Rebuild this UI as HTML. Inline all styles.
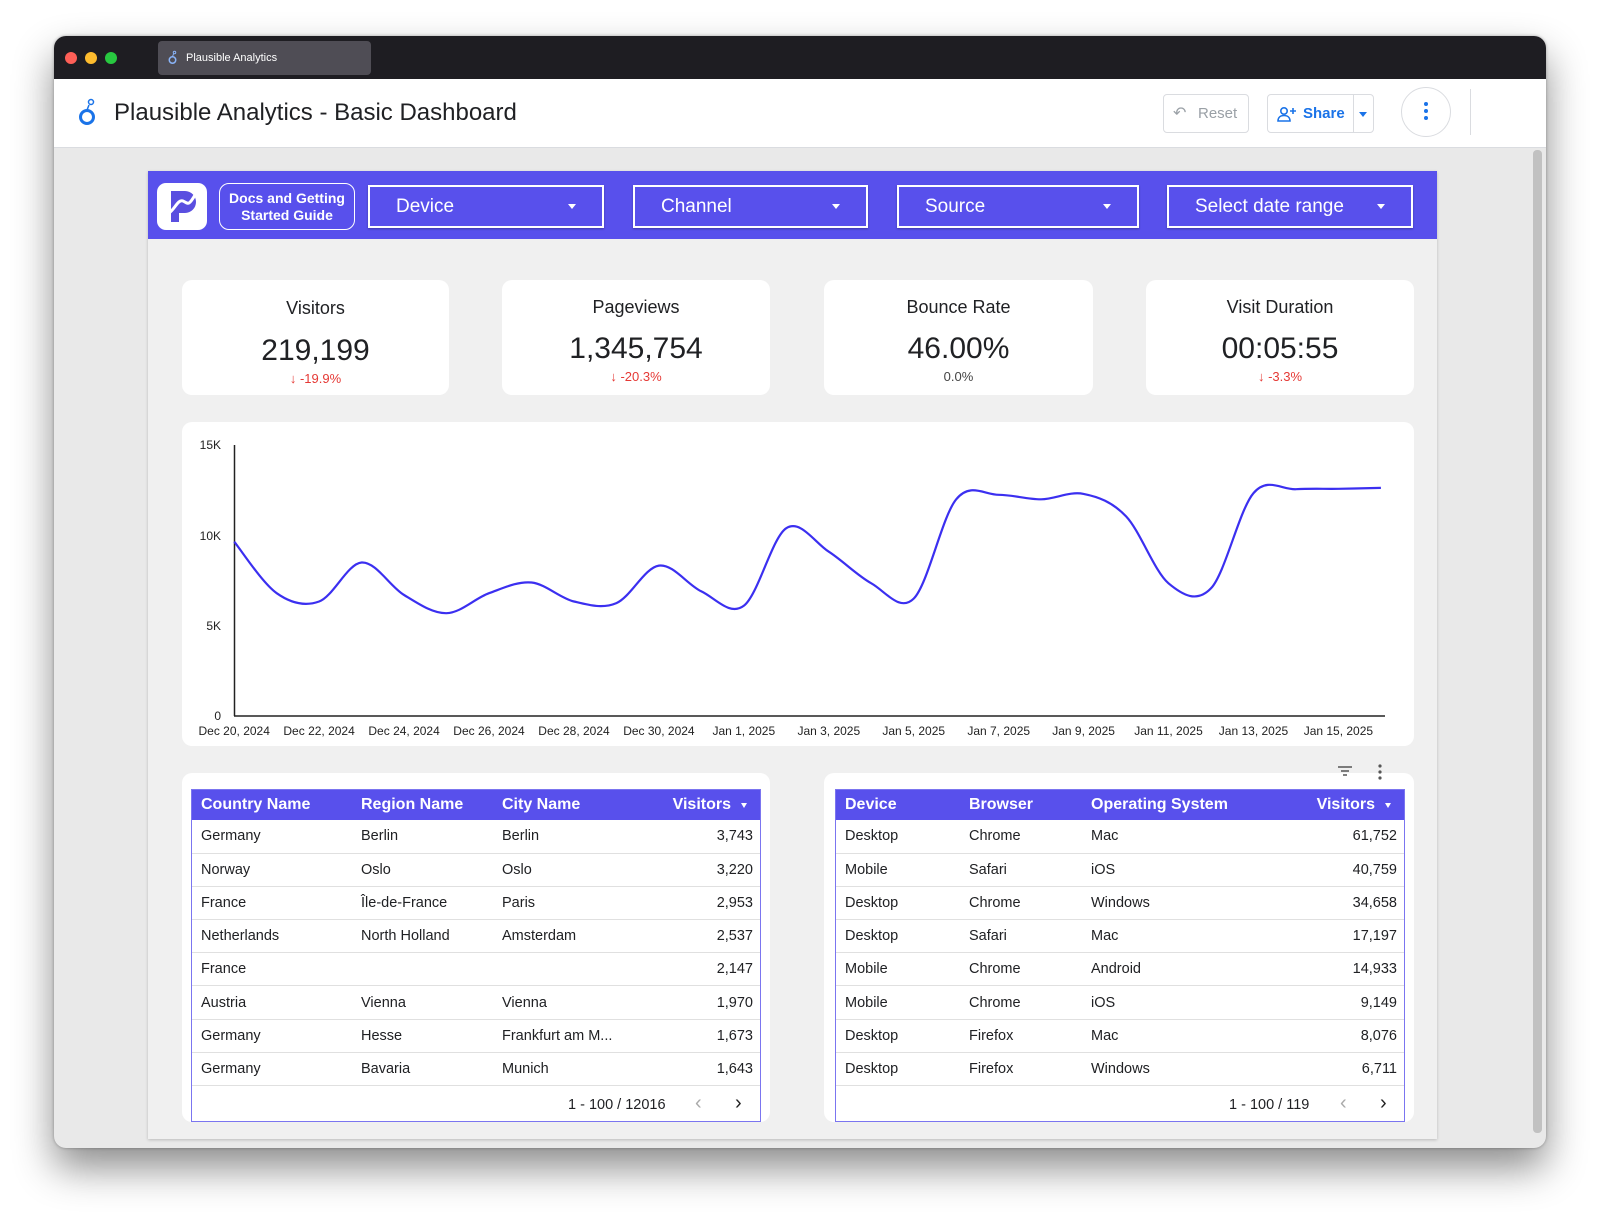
<!DOCTYPE html>
<html><head><meta charset="utf-8">
<style>
*{box-sizing:border-box;margin:0;padding:0}
body{width:1600px;height:1220px;background:#fff;font-family:"Liberation Sans",sans-serif;position:relative;overflow:hidden;color:#202124}
.abs{position:absolute}
#win{left:54px;top:36px;width:1492px;height:1112px;border-radius:12px;overflow:hidden;background:#e9e9e9;box-shadow:0 20px 40px rgba(0,0,0,.45),0 0 3px rgba(0,0,0,.3)}
#titlebar{left:0;top:0;width:1492px;height:43px;background:#1e1d22}
.dot{width:12px;height:12px;border-radius:50%;top:16px}
#tab{left:104px;top:5px;width:213px;height:34px;background:#4f4d55;border-radius:4px;color:#fff;font-size:11px;line-height:34px;padding-left:28px}
#hdr{left:0;top:43px;width:1492px;height:69px;background:#fff;border-bottom:1px solid #dadce0}
#title{left:60px;top:20px;font-size:24px;color:#202124}
.btn{border:1px solid #dadce0;border-radius:4px;background:#fff}
#panel{left:94px;top:135px;width:1289px;height:968px;background:#f0f0f0;box-shadow:0 1px 3px rgba(0,0,0,.2)}
#bar{left:0;top:0;width:1289px;height:68px;background:#5850ec}
.dd{position:absolute;top:14px;height:43px;border:2px solid #fff;box-shadow:0 1px 2px rgba(0,0,0,.3);color:#fff;font-size:19px;line-height:39px;padding-left:26px}
.dd::after{content:"";position:absolute;right:26px;top:17px;border-left:4px solid transparent;border-right:4px solid transparent;border-top:5px solid #fff}
.card{position:absolute;background:#fff;border-radius:10px}
.kt{position:absolute;left:0;width:100%;text-align:center}
table{border-collapse:collapse;width:100%;font-size:14.5px}
th{background:#5850ec;color:#fff;font-weight:bold;font-size:16px;text-align:left;height:30px;padding:0}
td{height:33.2px;border-bottom:1px solid #e0e0e0;padding:0}
.r{text-align:right}
.tb{position:absolute;border:1px solid #7b75f0;background:#fff}
</style></head><body>
<div id="win" class="abs">
 <div id="titlebar" class="abs">
  <div class="abs dot" style="left:11px;background:#fe5f57"></div>
  <div class="abs dot" style="left:31px;background:#febc2e"></div>
  <div class="abs dot" style="left:51px;background:#28c840"></div>
  <div id="tab" class="abs"><svg class="abs" style="left:10px;top:9px" width="10" height="16" viewBox="0 0 20 30"><circle cx="9" cy="19" r="6.5" fill="none" stroke="#8ab4f8" stroke-width="3"/><circle cx="13" cy="4" r="2.5" fill="none" stroke="#8ab4f8" stroke-width="2"/><line x1="11" y1="7" x2="9" y2="12" stroke="#8ab4f8" stroke-width="2"/></svg>Plausible Analytics</div>
 </div>
 <div id="hdr" class="abs">
  <svg class="abs" style="left:24px;top:19px" width="20" height="30" viewBox="0 0 20 30"><circle cx="9" cy="19" r="6.5" fill="none" stroke="#1a73e8" stroke-width="3"/><circle cx="13" cy="4" r="2.5" fill="none" stroke="#1a73e8" stroke-width="1.5"/><line x1="11" y1="7" x2="9" y2="12" stroke="#1a73e8" stroke-width="1.5"/></svg>
  <div id="title" class="abs">Plausible Analytics - Basic Dashboard</div>
  <div class="abs btn" style="left:1109px;top:15px;width:86px;height:39px;color:#9aa0a6;font-size:15px;line-height:37px;padding-left:34px">Reset<span style="position:absolute;left:9px;top:0;font-size:16px">&#x21B6;</span></div>
  <div class="abs btn" style="left:1213px;top:15px;width:107px;height:39px;color:#1a73e8;font-size:15px;font-weight:bold;line-height:37px;padding-left:35px">Share<svg style="position:absolute;left:9px;top:11px" width="20" height="16" viewBox="0 0 20 16"><circle cx="7" cy="5" r="3.2" fill="none" stroke="#1a73e8" stroke-width="1.6"/><path d="M1 15c0-4 3-5.5 6-5.5s6 1.5 6 5.5z" fill="none" stroke="#1a73e8" stroke-width="1.6"/><path d="M16 2v6M13 5h6" stroke="#1a73e8" stroke-width="1.6"/></svg><span style="position:absolute;left:85px;top:0;width:1px;height:37px;background:#dadce0"></span><span style="position:absolute;left:91px;top:17px;border-left:4px solid transparent;border-right:4px solid transparent;border-top:5px solid #1a73e8"></span></div>
  <div class="abs" style="left:1347px;top:8px;width:50px;height:50px;border:1px solid #dadce0;border-radius:50%"></div>
  <div class="abs" style="left:1370px;top:23px;width:4px;height:4px;border-radius:2px;background:#1a73e8;box-shadow:0 7px 0 #1a73e8,0 14px 0 #1a73e8"></div>
  <div class="abs" style="left:1416px;top:10px;width:1px;height:46px;background:#dadce0"></div>
 </div>
 <div class="abs" style="left:1479px;top:114px;width:9px;height:983px;background:#c1c1c1;border-radius:4px"></div>
 <div id="panel" class="abs">
  <div id="bar" class="abs">
   <div class="abs" style="left:9px;top:12px;width:50px;height:47px;background:#fff;border-radius:9px">
    <svg width="50" height="47" viewBox="0 0 50 47"><path d="M14 8h14a11 11 0 0 1 0 22h-6v9h-8z" fill="#5a4fe0"/><path d="M12 30c6-4 9-14 14-12s5 6 12-6" fill="none" stroke="#fff" stroke-width="3"/></svg>
   </div>
   <div class="abs" style="left:71px;top:12px;width:136px;height:47px;border:1.5px solid #fff;border-radius:10px;color:#fff;font-weight:bold;font-size:14px;text-align:center;line-height:17px;padding-top:6px">Docs and Getting<br>Started Guide</div>
   <div class="dd" style="left:220px;width:236px">Device</div>
   <div class="dd" style="left:485px;width:235px">Channel</div>
   <div class="dd" style="left:749px;width:242px">Source</div>
   <div class="dd" style="left:1019px;width:246px">Select date range</div>
  </div>
  <div class="card" style="left:34px;top:109px;width:267px;height:115px"><div class="kt" style="top:18px;font-size:18px">Visitors</div><div class="kt" style="top:54px;font-size:30px">219,199</div><div class="kt" style="top:91px;font-size:13px;color:#e53935">&#x2193; -19.9%</div></div>
  <div class="card" style="left:354px;top:109px;width:268px;height:115px"><div class="kt" style="top:17px;font-size:18px">Pageviews</div><div class="kt" style="top:52px;font-size:30px">1,345,754</div><div class="kt" style="top:89px;font-size:13px;color:#e53935">&#x2193; -20.3%</div></div>
  <div class="card" style="left:676px;top:109px;width:269px;height:115px"><div class="kt" style="top:17px;font-size:18px">Bounce Rate</div><div class="kt" style="top:52px;font-size:30px">46.00%</div><div class="kt" style="top:89px;font-size:13px;color:#444">0.0%</div></div>
  <div class="card" style="left:998px;top:109px;width:268px;height:115px"><div class="kt" style="top:17px;font-size:18px">Visit Duration</div><div class="kt" style="top:52px;font-size:30px">00:05:55</div><div class="kt" style="top:89px;font-size:13px;color:#e53935">&#x2193; -3.3%</div></div>
  <div class="card" style="left:34px;top:251px;width:1232px;height:324px"></div>
  <div class="card" style="left:34px;top:602px;width:588px;height:349px"></div>
  <div class="card" style="left:676px;top:602px;width:590px;height:349px"></div>
 </div>
</div>
<svg class="abs" style="left:0;top:0" width="1600" height="1220" id="ch">
 <g font-size="12" fill="#222" font-family="Liberation Sans,sans-serif">
  <text x="221" y="449" text-anchor="end">15K</text>
  <text x="221" y="540" text-anchor="end">10K</text>
  <text x="221" y="630" text-anchor="end">5K</text>
  <text x="221" y="720" text-anchor="end">0</text>
 </g>
 <line x1="234.5" y1="445" x2="234.5" y2="716" stroke="#222" stroke-width="1.5"/>
 <line x1="234" y1="716" x2="1385" y2="716" stroke="#222" stroke-width="1.5"/>
 <g id="xl" font-size="12" fill="#222" text-anchor="middle" font-family="Liberation Sans,sans-serif"></g>
 <path id="ln" fill="none" stroke="#3b2ff0" stroke-width="2.2"/>
 <g stroke="#555" stroke-width="1.5"><line x1="1338" y1="767" x2="1352" y2="767"/><line x1="1341" y1="771" x2="1349" y2="771"/><line x1="1343" y1="775" x2="1347" y2="775"/></g>
 <g fill="#555"><circle cx="1380" cy="766" r="1.6"/><circle cx="1380" cy="772" r="1.6"/><circle cx="1380" cy="778" r="1.6"/></g>
</svg>
<div class="tb" style="left:191px;top:789px;width:570px;height:333px">
 <table><tr><th style="padding-left:9px;width:169px">Country Name</th><th style="width:141px">Region Name</th><th>City Name</th><th class="r" style="padding-right:29px">Visitors <span style="position:absolute;left:549px;top:13px;border-left:3.5px solid transparent;border-right:3.5px solid transparent;border-top:5px solid #fff"></span></th></tr>
 <tr><td style="padding-left:9px">Germany</td><td>Berlin</td><td>Berlin</td><td class="r" style="padding-right:7px">3,743</td></tr>
 <tr><td style="padding-left:9px">Norway</td><td>Oslo</td><td>Oslo</td><td class="r" style="padding-right:7px">3,220</td></tr>
 <tr><td style="padding-left:9px">France</td><td>Île-de-France</td><td>Paris</td><td class="r" style="padding-right:7px">2,953</td></tr>
 <tr><td style="padding-left:9px">Netherlands</td><td>North Holland</td><td>Amsterdam</td><td class="r" style="padding-right:7px">2,537</td></tr>
 <tr><td style="padding-left:9px">France</td><td></td><td></td><td class="r" style="padding-right:7px">2,147</td></tr>
 <tr><td style="padding-left:9px">Austria</td><td>Vienna</td><td>Vienna</td><td class="r" style="padding-right:7px">1,970</td></tr>
 <tr><td style="padding-left:9px">Germany</td><td>Hesse</td><td>Frankfurt am M...</td><td class="r" style="padding-right:7px">1,673</td></tr>
 <tr><td style="padding-left:9px">Germany</td><td>Bavaria</td><td>Munich</td><td class="r" style="padding-right:7px">1,643</td></tr>
 </table>
</div>
<div class="abs" style="left:568px;top:1097px;font-size:14.5px">1 - 100 / 12016</div>
<div class="abs" style="left:695px;top:1092px;font-size:20px;color:#aaa">&#x2039;</div>
<div class="abs" style="left:735px;top:1092px;font-size:20px;color:#222">&#x203A;</div>
<div class="tb" style="left:835px;top:789px;width:570px;height:333px">
 <table><tr><th style="padding-left:9px;width:133px">Device</th><th style="width:122px">Browser</th><th>Operating System</th><th class="r" style="padding-right:29px">Visitors <span style="position:absolute;left:549px;top:13px;border-left:3.5px solid transparent;border-right:3.5px solid transparent;border-top:5px solid #fff"></span></th></tr>
 <tr><td style="padding-left:9px">Desktop</td><td>Chrome</td><td>Mac</td><td class="r" style="padding-right:7px">61,752</td></tr>
 <tr><td style="padding-left:9px">Mobile</td><td>Safari</td><td>iOS</td><td class="r" style="padding-right:7px">40,759</td></tr>
 <tr><td style="padding-left:9px">Desktop</td><td>Chrome</td><td>Windows</td><td class="r" style="padding-right:7px">34,658</td></tr>
 <tr><td style="padding-left:9px">Desktop</td><td>Safari</td><td>Mac</td><td class="r" style="padding-right:7px">17,197</td></tr>
 <tr><td style="padding-left:9px">Mobile</td><td>Chrome</td><td>Android</td><td class="r" style="padding-right:7px">14,933</td></tr>
 <tr><td style="padding-left:9px">Mobile</td><td>Chrome</td><td>iOS</td><td class="r" style="padding-right:7px">9,149</td></tr>
 <tr><td style="padding-left:9px">Desktop</td><td>Firefox</td><td>Mac</td><td class="r" style="padding-right:7px">8,076</td></tr>
 <tr><td style="padding-left:9px">Desktop</td><td>Firefox</td><td>Windows</td><td class="r" style="padding-right:7px">6,711</td></tr>
 </table>
</div>
<div class="abs" style="left:1229px;top:1097px;font-size:14.5px">1 - 100 / 119</div>
<div class="abs" style="left:1340px;top:1092px;font-size:20px;color:#aaa">&#x2039;</div>
<div class="abs" style="left:1380px;top:1092px;font-size:20px;color:#222">&#x203A;</div>
<script>
var v=[9.65,6.8,6.34,8.5,6.7,5.69,6.8,7.39,6.34,6.25,8.33,6.9,6.1,10.4,9.1,7.35,6.5,12.0,12.25,12.0,12.3,11.05,7.35,7.07,12.34,12.56,12.58,12.63];
var x0=234.2,dx=42.47,P=[];
for(var i=0;i<v.length;i++)P.push([x0+dx*i,716-v[i]/5*90.3]);
var d="M"+P[0][0].toFixed(1)+","+P[0][1].toFixed(1);
for(var i=0;i<P.length-1;i++){var p0=P[i-1]||P[i],p1=P[i],p2=P[i+1],p3=P[i+2]||p2;
var c1=[p1[0]+(p2[0]-p0[0])/6,p1[1]+(p2[1]-p0[1])/6],c2=[p2[0]-(p3[0]-p1[0])/6,p2[1]-(p3[1]-p1[1])/6];
d+=" C"+c1[0].toFixed(1)+","+c1[1].toFixed(1)+" "+c2[0].toFixed(1)+","+c2[1].toFixed(1)+" "+p2[0].toFixed(1)+","+p2[1].toFixed(1);}
document.getElementById("ln").setAttribute("d",d);
var L=["Dec 20, 2024","Dec 22, 2024","Dec 24, 2024","Dec 26, 2024","Dec 28, 2024","Dec 30, 2024","Jan 1, 2025","Jan 3, 2025","Jan 5, 2025","Jan 7, 2025","Jan 9, 2025","Jan 11, 2025","Jan 13, 2025","Jan 15, 2025"];
var g=document.getElementById("xl"),s="";
for(var i=0;i<L.length;i++)s+='<text x="'+(x0+dx*2*i).toFixed(1)+'" y="735">'+L[i]+'</text>';
g.innerHTML=s;
</script>
</body></html>
